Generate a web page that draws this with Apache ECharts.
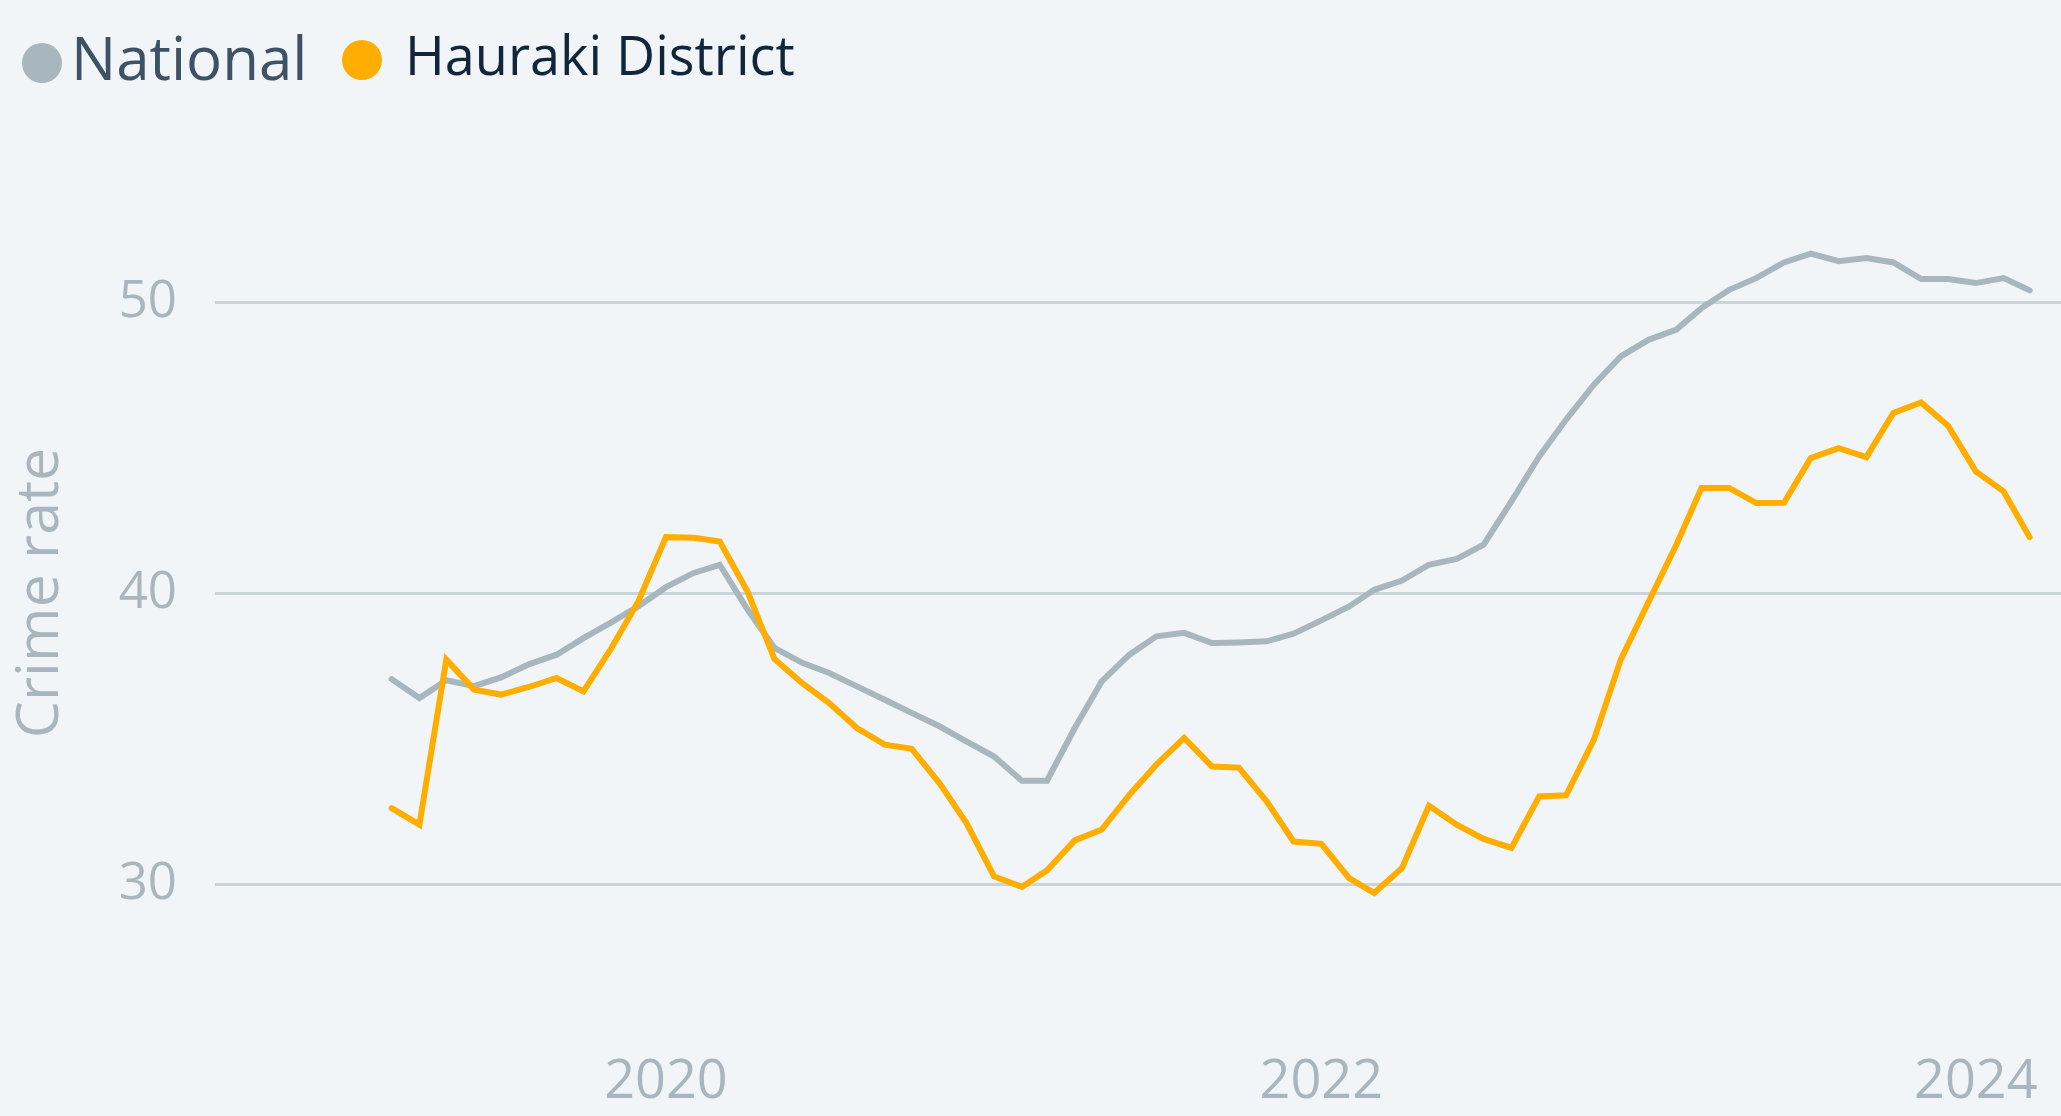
<!DOCTYPE html>
<html>
<head>
<meta charset="utf-8">
<script src="https://cdn.jsdelivr.net/npm/echarts@6/dist/echarts.min.js"></script>
<style>
  html, body { margin: 0; padding: 0; background: #f1f5f8; }
  #chart { width: 2061px; height: 1116px; }
</style>
</head>
<body>
<div id="chart"></div>
<script>
const months = [
  '2019-03', '2019-04', '2019-05', '2019-06', '2019-07', '2019-08', '2019-09', '2019-10', '2019-11', '2019-12',
  '2020-01', '2020-02', '2020-03', '2020-04', '2020-05', '2020-06', '2020-07', '2020-08', '2020-09', '2020-10', '2020-11', '2020-12',
  '2021-01', '2021-02', '2021-03', '2021-04', '2021-05', '2021-06', '2021-07', '2021-08', '2021-09', '2021-10', '2021-11', '2021-12',
  '2022-01', '2022-02', '2022-03', '2022-04', '2022-05', '2022-06', '2022-07', '2022-08', '2022-09', '2022-10', '2022-11', '2022-12',
  '2023-01', '2023-02', '2023-03', '2023-04', '2023-05', '2023-06', '2023-07', '2023-08', '2023-09', '2023-10', '2023-11', '2023-12',
  '2024-01', '2024-02', '2024-03',
]

const national = [
  37.04, 36.39, 37.0, 36.8, 37.1, 37.55, 37.88, 38.45, 38.99, 39.54,
  40.2, 40.69, 40.97, 39.43, 38.11, 37.6, 37.25, 36.79, 36.33, 35.88, 35.42, 34.9,
  34.38, 33.55, 33.55, 35.36, 36.96, 37.88, 38.51, 38.63, 38.28, 38.3, 38.34, 38.6,
  39.06, 39.54, 40.11, 40.43, 40.97, 41.17, 41.66, 43.15, 44.69, 45.96, 47.16, 48.13,
  48.7, 49.05, 49.79, 50.42, 50.82, 51.36, 51.66, 51.4, 51.51, 51.36, 50.79, 50.79,
  50.65, 50.82, 50.4,
]

const hauraki = [
  32.61, 32.04, 37.71, 36.68, 36.51, 36.77, 37.08, 36.62, 38.1, 39.7,
  41.92, 41.9, 41.77, 40.05, 37.73, 36.9, 36.22, 35.36, 34.79, 34.65, 33.47, 32.1,
  30.26, 29.9, 30.47, 31.5, 31.87, 33.07, 34.1, 35.02, 34.04, 34.0, 32.84, 31.46,
  31.38, 30.2, 29.69, 30.55, 32.69, 32.04, 31.55, 31.24, 33.01, 33.05, 34.96, 37.71,
  39.7, 41.66, 43.61, 43.61, 43.09, 43.1, 44.64, 44.98, 44.67, 46.19, 46.55, 45.75,
  44.18, 43.49, 41.92,
]

const yearTicks = ['2020-01-01', '2022-01-01', '2024-01-01']
const rateTicks = [30, 40, 50]

const FONT = 'Open Sans'
// dates become ms timestamps, the x axis is a plain value axis over them
const toTime = (s) => Date.parse((s.length === 7 ? s + '-01' : s) + 'T00:00:00Z')
const pairs = (vals) => months.map((m, i) => [toTime(m), vals[i]])

const lineSeries = (name, color, vals) => ({
  name,
  type: 'line',
  data: pairs(vals),
  showSymbol: false,
  symbol: 'none',
  lineStyle: { color, width: 6, cap: 'round', join: 'miter' },
  itemStyle: { color },
  emphasis: { disabled: true },
})

const chart = echarts.init(document.getElementById('chart'))

chart.setOption({
  backgroundColor: '#f1f5f8',
  animation: false,
  legend: [
    {
      left: 17,
      top: 28,
      icon: 'circle',
      itemWidth: 40,
      itemHeight: 40,
      data: ['National'],
      textStyle: { fontFamily: FONT, fontSize: 60, color: '#3e5266', padding: [0, 0, 0, 4] },
    },
    {
      left: 337,
      top: 28,
      icon: 'circle',
      itemWidth: 40,
      itemHeight: 40,
      data: ['Hauraki District'],
      textStyle: { fontFamily: FONT, fontSize: 54, color: '#12263b', padding: [0, 0, 0, 18] },
    },
  ],
  grid: {
    left: 215,
    right: 0,
    top: 156.5,
    bottom: 86.5,
  },
  xAxis: {
    type: 'value',
    min: toTime('2018-08-16'),
    max: toTime('2024-04-05'),
    axisLine: { show: false },
    axisTick: { show: false, customValues: yearTicks.map(toTime) },
    splitLine: { show: false },
    axisLabel: {
      customValues: yearTicks.map(toTime),
      formatter: (v) => String(new Date(v).getUTCFullYear()),
      fontFamily: FONT,
      fontSize: 54,
      color: '#a9b6bd',
      margin: 26,
    },
  },
  yAxis: {
    type: 'value',
    min: 25,
    max: 55,
    name: 'Crime rate',
    nameLocation: 'middle',
    nameGap: 144,
    nameTextStyle: { fontFamily: FONT, fontSize: 59, color: '#a9b6bd' },
    axisLine: { show: false },
    axisTick: { show: false, customValues: rateTicks },
    axisLabel: {
      customValues: rateTicks,
      fontFamily: FONT,
      fontSize: 51,
      color: '#a9b6bd',
      margin: 38,
    },
    splitLine: { show: true, lineStyle: { color: '#cad4d9', width: 3 } },
  },
  series: [
    lineSeries('National', '#a8b6bd', national),
    lineSeries('Hauraki District', '#ffae00', hauraki),
  ],
})
</script>
</body>
</html>
